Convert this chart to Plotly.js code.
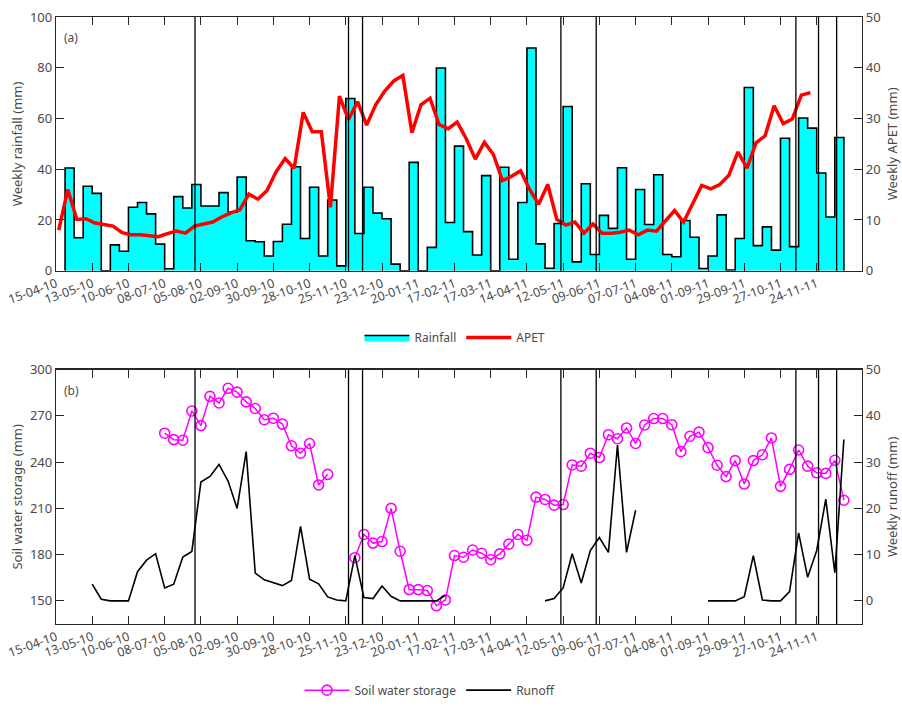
<!DOCTYPE html>
<html>
<head>
<meta charset="utf-8">
<script src="https://cdn.plot.ly/plotly-3.0.1.min.js"></script>
<style>html,body{margin:0;padding:0;background:#fff;}#chart{width:902px;height:717px;}</style>
</head>
<body>
<div id="chart"></div>
<script>
// ---- data (x = week index, week 0 = 15-04-10) ----
const tickLabels = ["15-04-10","13-05-10","10-06-10","08-07-10","05-08-10","02-09-10","30-09-10","28-10-10","25-11-10","23-12-10","20-01-11","17-02-11","17-03-11","14-04-11","12-05-11","09-06-11","07-07-11","04-08-11","01-09-11","29-09-11","27-10-11","24-11-11"];
const tickStepWeeks = 4;

const rainFirstWeek = 1;
const rainfall = [40.5,13,33.3,30.5,0,10.2,7.7,25,26.9,22.4,10.5,0.8,29.2,24.7,34,25.5,25.5,30.8,23.1,36.9,
  11.8,11.4,5.8,11.5,18.3,41,12.7,32.9,5.8,27.9,1.9,67.9,14.7,32.9,22.7,20.5,2.6,0,42.7,0,
  9.2,79.9,19,49.1,15.4,6.2,37.5,0,40.8,4.5,26.9,87.8,10.6,1,18.6,64.7,3.5,34.3,6.4,21.8,
  16.7,40.6,4.5,32,18.2,37.8,6.4,5.5,19.8,13.2,0.9,5.8,22,0.3,12.7,72.2,9.9,17.3,8.1,52.2,
  9.5,60.2,56.2,38.5,21.2,52.5];

const apetFirstWeek = 0.3;
const apet = [8.0,16.0,10.1,10.25,9.4,9.1,8.8,7.5,7.1,7.1,6.9,6.7,7.3,7.8,7.4,8.8,9.2,9.6,10.6,11.4,
  12.0,15.1,14.1,15.8,19.5,22.1,20.2,31.2,27.4,27.4,12.5,34.4,29.8,33.3,28.7,32.7,35.4,37.4,38.5,27.2,
  32.7,34.0,28.8,28.0,29.3,26.0,22.0,25.3,22.9,17.75,18.6,19.7,16.0,13.1,17.0,10.1,9.0,9.6,7.4,9.2,
  7.4,7.4,7.6,8.0,7.1,8.0,7.8,9.9,11.85,9.6,13.1,16.8,16.15,17.0,18.8,23.4,20.2,25.2,26.6,32.5,
  29.0,29.9,34.6,35.1];

const swsFirstWeek = 12;
const soilWater = [258.8,254.6,254.2,273.2,263.7,282.7,278.4,287.9,285.4,279.1,274.8,267.5,268.5,264.7,250.6,245.8,252.1,225.2,232.1,
  null,null,
  178.0,193.1,187.5,188.5,210.0,182.2,157.3,157.3,156.7,146.8,150.6,179.4,178.3,183.0,180.9,176.7,180.5,186.8,193.1,189.3,
  217.3,215.8,212.1,212.5,238.2,237.4,245.8,243.0,257.8,255.2,262.2,252.1,264.1,268.3,268.3,264.3,246.8,256.8,259.5,
  249.4,238.0,230.6,241.0,225.8,241.0,244.8,255.7,224.3,235.3,247.9,237.4,233.1,232.7,241.2,215.3];

const runoffFirstWeek = 4;
const runoff = [3.6,0.35,0,0,0,6.3,8.8,10.2,2.8,3.6,9.5,10.7,25.7,26.9,29.5,25.9,20.0,32.3,6.0,4.55,
  3.85,3.3,4.4,16.1,4.7,3.7,0.85,0.2,0,9.8,0.7,0.5,3.2,1.0,0,0,0,0,0,1.2,
  null,null,null,null,null,null,null,null,null,null,
  0,0.5,2.8,10.2,3.85,10.9,13.7,10.5,33.7,10.5,19.6,
  null,null,null,null,null,null,null,
  0,0,0,0,0.9,9.8,0.2,0,0,2.0,14.7,5.1,10.9,22.0,6.1,34.9];

const eventWeeks = [15.35,32.3,33.85,55.75,59.65,81.7,84.2,86.2];

// ---- derived x arrays ----
const weeksFrom = (start, arr) => arr.map((_, i) => start + i);
const rainWeeks = weeksFrom(rainFirstWeek, rainfall);
const lastRainEnd = rainWeeks[rainWeeks.length - 1] + 1;
const stairX = [rainWeeks[0]].concat(rainWeeks, [lastRainEnd, lastRainEnd]);
const stairY = [0].concat(rainfall, [rainfall[rainfall.length - 1], 0]);
const tickVals = tickLabels.map((_, i) => i * tickStepWeeks);

const FONT = 'Noto Sans, Open Sans, sans-serif';
const TXT = '#4a4a4a';
const AX = '#262626';

const traces = [
  {x: stairX, y: stairY, type: 'scatter', mode: 'lines', line: {shape: 'hv', color: '#000', width: 1.6},
   fill: 'tozeroy', fillcolor: '#00ffff', name: 'Rainfall', xaxis: 'x', yaxis: 'y', legend: 'legend'},
  {x: weeksFrom(apetFirstWeek, apet), y: apet, type: 'scatter', mode: 'lines', line: {color: '#ff0000', width: 3.5},
   name: 'APET', xaxis: 'x', yaxis: 'y2', legend: 'legend'},
  {x: weeksFrom(swsFirstWeek, soilWater), y: soilWater, type: 'scatter', mode: 'lines+markers',
   line: {color: '#ff00ff', width: 1.5}, marker: {symbol: 'circle-open', size: 10, color: '#ff00ff', line: {width: 1.6}},
   connectgaps: false, name: 'Soil water storage', xaxis: 'x2', yaxis: 'y3', legend: 'legend2'},
  {x: weeksFrom(runoffFirstWeek, runoff), y: runoff, type: 'scatter', mode: 'lines',
   line: {color: '#000000', width: 1.6}, connectgaps: false, name: 'Runoff', xaxis: 'x2', yaxis: 'y4', legend: 'legend2'}
];

const shapes = [];
eventWeeks.forEach(w => {
  ['y domain', 'y3 domain'].forEach((yr, j) => {
    shapes.push({type: 'line', xref: j === 0 ? 'x' : 'x2', yref: yr, x0: w, x1: w, y0: 0, y1: 1,
      line: {color: '#000', width: 1.3}});
  });
});

const xCommon = {
  range: [0, 89], tickmode: 'array', tickvals: tickVals, ticktext: tickLabels, tickangle: -20,
  ticks: 'inside', ticklen: 8, tickcolor: AX, showline: true, linecolor: AX, linewidth: 1.2, mirror: 'ticks',
  showgrid: false, zeroline: false, tickfont: {family: FONT, size: 12.5, color: TXT}
};
const yCommon = {
  ticks: 'inside', ticklen: 8, tickcolor: AX, showline: true, linecolor: AX, linewidth: 1.2,
  showgrid: false, zeroline: false, tickfont: {family: FONT, size: 13, color: TXT}
};

const layout = {
  width: 902, height: 717,
  margin: {l: 56, r: 40, t: 17, b: 75},
  paper_bgcolor: '#fff', plot_bgcolor: '#fff',
  font: {family: FONT, color: TXT},
  xaxis: Object.assign({}, xCommon, {domain: [0, 1], anchor: 'y'}),
  xaxis2: Object.assign({}, xCommon, {domain: [0, 1], anchor: 'y3', matches: 'x'}),
  yaxis: Object.assign({}, yCommon, {domain: [0.582, 1], range: [0, 100], dtick: 20,
    title: {text: 'Weekly rainfall (mm)', font: {family: FONT, size: 13, color: TXT}, standoff: 4}}),
  yaxis2: Object.assign({}, yCommon, {overlaying: 'y', side: 'right', anchor: 'x', range: [0, 50], dtick: 10,
    title: {text: 'Weekly APET (mm)', font: {family: FONT, size: 13, color: TXT}, standoff: 8}}),
  yaxis3: Object.assign({}, yCommon, {domain: [0, 0.419], anchor: 'x2', range: [135, 300], dtick: 30,
    title: {text: 'Soil water storage (mm)', font: {family: FONT, size: 13, color: TXT}, standoff: 4}}),
  yaxis4: Object.assign({}, yCommon, {overlaying: 'y3', side: 'right', anchor: 'x2', range: [-5, 50], dtick: 10,
    title: {text: 'Weekly runoff (mm)', font: {family: FONT, size: 13, color: TXT}, standoff: 8}}),
  shapes: shapes,
  annotations: [
    {text: '(a)', xref: 'x domain', yref: 'y domain', x: 0.008, y: 0.96, xanchor: 'left', yanchor: 'top',
     showarrow: false, font: {family: FONT, size: 12, color: TXT}},
    {text: '(b)', xref: 'x2 domain', yref: 'y3 domain', x: 0.008, y: 0.96, xanchor: 'left', yanchor: 'top',
     showarrow: false, font: {family: FONT, size: 12, color: TXT}}
  ],
  showlegend: true,
  legend: {orientation: 'h', x: 0.495, xanchor: 'center', y: 0.472, yanchor: 'middle',
    font: {family: FONT, size: 12, color: TXT}, bgcolor: 'rgba(0,0,0,0)', itemwidth: 45},
  legend2: {orientation: 'h', x: 0.464, xanchor: 'center', y: -0.109, yanchor: 'middle',
    font: {family: FONT, size: 12, color: TXT}, bgcolor: 'rgba(0,0,0,0)', itemwidth: 45}
};

Plotly.newPlot('chart', traces, layout, {displayModeBar: false, staticPlot: true});
</script>
</body>
</html>
